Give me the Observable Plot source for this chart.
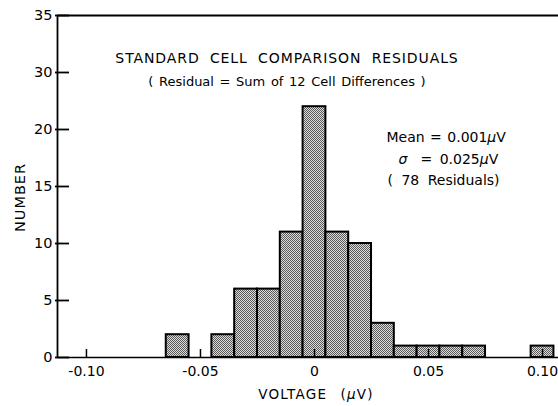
<!DOCTYPE html>
<html><head><meta charset="utf-8">
<script src="https://cdn.jsdelivr.net/npm/d3@7"></script>
<script src="https://cdn.jsdelivr.net/npm/@observablehq/plot@0.6"></script>
<style>body{margin:0;background:#fff}</style>
</head><body><div id="chart"></div>
<script>
// Histogram data (bin centers in µV, counts)
const binCenters = [-0.06, -0.04, -0.03, -0.02, -0.01, 0, 0.01, 0.02, 0.03, 0.04, 0.05, 0.06, 0.07, 0.10];
const counts = [2, 2, 6, 6, 11, 22, 11, 10, 3, 1, 1, 1, 1, 1];
const binWidth = 0.01;
const xDomain = [-0.1127, 0.107];
const yDomain = [0, 30];
const xTicks = [-0.10, -0.05, 0, 0.05, 0.10];
const xTickLabels = ["-0.10", "-0.05", "0", "0.05", "0.10"];
const yTicks = [0, 5, 10, 15, 20, 25, 30];
const yTickLabels = ["0", "5", "10", "15", "20", "30", "35"];
const title = "STANDARD CELL COMPARISON RESIDUALS";
const subtitle = "( Residual = Sum of 12 Cell Differences )";
const statMean = "Mean = 0.001μV";
const statSigmaSym = "σ";
const statSigma = "= 0.025μV";
const statN = "( 78 Residuals)";
const xLabel = "VOLTAGE (μV)";
const yLabel = "NUMBER";

const data = binCenters.map((c, i) => ({c, n: counts[i]}));
const font = "DejaVu Sans, sans-serif";

const plot = Plot.plot({
  width: 558,
  height: 406,
  marginLeft: 57,
  marginRight: 0,
  marginTop: 15,
  marginBottom: 49,
  style: {fontFamily: font, fontSize: "14px", color: "black", background: "white", overflow: "visible"},
  x: {domain: xDomain},
  y: {domain: yDomain},
  marks: [
    Plot.rectY(data, {x1: d => d.c - binWidth / 2, x2: d => d.c + binWidth / 2, y: "n",
      fill: "url(#stipple)", stroke: "black", strokeWidth: 2, insetLeft: 0, insetRight: 0}),
    Plot.ruleY([yDomain[0]], {stroke: "black", strokeWidth: 1.5}),
    Plot.ruleY([yDomain[1]], {stroke: "black", strokeWidth: 1.8}),
    Plot.ruleX([xDomain[0]], {stroke: "black", strokeWidth: 1.8}),
    // inward y ticks (ticks only, shifted to the inside of the frame)
    Plot.axisY(yTicks, {tickSize: 14, dx: 12, tickFormat: () => "", label: null, stroke: "black", strokeWidth: 1.8}),
    Plot.axisX(xTicks, {tickFormat: d => xTickLabels[xTicks.indexOf(d)], tickSize: -8, tickPadding: 17, label: null, fontSize: 14, strokeWidth: 1.5}),
    Plot.axisY(yTicks, {tickFormat: d => yTickLabels[yTicks.indexOf(d)], tickSize: 0, tickPadding: 5, label: null, fontSize: 14.5}),
    Plot.text([title], {text: d => d, frameAnchor: "top", lineAnchor: "middle", dx: -21, dy: 43, fontSize: 14}),
    Plot.text([subtitle], {text: d => d, frameAnchor: "top", lineAnchor: "middle", dx: -21, dy: 66, fontSize: 13}),
    Plot.text([statMean], {text: d => d, frameAnchor: "top-left", textAnchor: "start", lineAnchor: "middle", dx: 329, dy: 122, fontSize: 14}),
    Plot.text([statSigmaSym], {text: d => d, frameAnchor: "top-left", textAnchor: "start", lineAnchor: "middle", dx: 341, dy: 144, fontSize: 14, fontStyle: "italic"}),
    Plot.text([statSigma], {text: d => d, frameAnchor: "top-left", textAnchor: "start", lineAnchor: "middle", dx: 363, dy: 144, fontSize: 14}),
    Plot.text([statN], {text: d => d, frameAnchor: "top-left", textAnchor: "start", lineAnchor: "middle", dx: 330, dy: 165, fontSize: 14}),
    Plot.text([xLabel], {text: d => d, frameAnchor: "bottom", lineAnchor: "middle", dx: 8, dy: 37, fontSize: 13.5}),
    Plot.text([yLabel], {text: d => d, frameAnchor: "left", textAnchor: "middle", lineAnchor: "middle", rotate: -90, dx: -37, dy: 11, fontSize: 14.5})
  ]
});

// stipple fill pattern for the bars
const ns = "http://www.w3.org/2000/svg";
const defs = document.createElementNS(ns, "defs");
defs.innerHTML = '<pattern id="stipple" width="2" height="2" patternUnits="userSpaceOnUse">' +
  '<rect width="2" height="2" fill="#dcdcdc"/><rect width="1" height="1" fill="#5a5a5a"/>' +
  '<rect x="1" y="1" width="1" height="1" fill="#5a5a5a"/></pattern>';
plot.prepend(defs);

// lettering styles (spacing, italic mu)
const spacing = {
  [title]: {ls: 0.9, ws: 5},
  [subtitle]: {ls: 0, ws: 1.5},
  [statMean]: {ls: 0, ws: 1},
  [statSigma]: {ls: 0, ws: 3},
  [statN]: {ls: 0, ws: 4},
  [xLabel]: {ls: 1.2, ws: 8},
  [yLabel]: {ls: 1, ws: 0}
};
d3.select(plot).selectAll("text").each(function () {
  const t = this.textContent;
  const s = spacing[t];
  if (s) {
    this.style.letterSpacing = s.ls + "px";
    this.style.wordSpacing = s.ws + "px";
  }
  if (t.includes("μ") && this.childElementCount === 0) {
    this.innerHTML = t.replace("μ", '<tspan font-style="italic">μ</tspan>');
  }
});
document.getElementById("chart").appendChild(plot);
</script>
</body></html>
